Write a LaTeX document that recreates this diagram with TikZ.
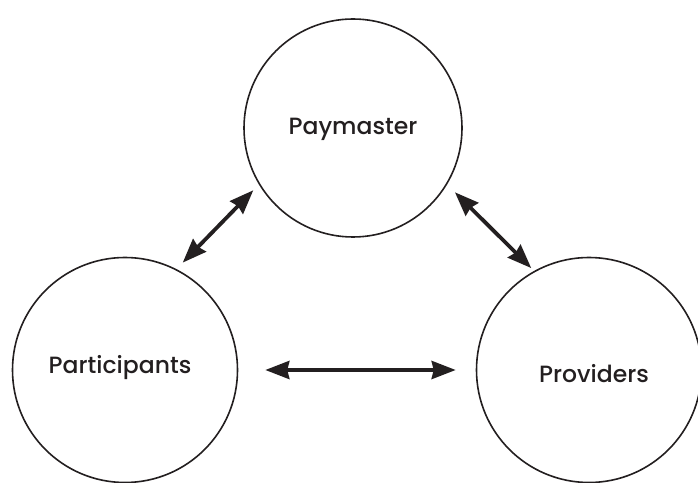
\documentclass[tikz,border=0pt]{standalone}
\usepackage{fontspec}
\setmainfont{Poppins}[UprightFont=* Medium]
\usetikzlibrary{arrows.meta}
\definecolor{ink}{HTML}{231F20}
\begin{document}
\begin{tikzpicture}[x=1pt,y=1pt,
  party/.style={circle,draw=ink,line width=1.6pt,inner sep=0pt},
  partytext/.style={anchor=base,inner sep=0pt,text=ink,
    font=\fontsize{23.5}{27}\selectfont},
  link/.style={ink,line width=3.8pt,
    {Stealth[length=24pt,width=18pt,inset=2pt]}-{Stealth[length=24pt,width=18pt,inset=2pt]}}]
  \useasboundingbox (0,0) rectangle (698,482);
  % the three parties
  \node[party,minimum size=218pt] (pay) at (353,354) {};
  \node[party,minimum size=225pt] (par) at (125,112) {};
  \node[party,minimum size=225pt] (pro) at (589,112) {};
  \node[partytext] (payname) at (353,347) {Paymaster};
  \node[partytext] (parname) at (120,109) {Participants};
  \node[partytext] (proname) at (594,100) {Providers};
  % two-way links between them
  \draw[link,shorten <=8pt,shorten >=9pt] (pay.211) -- (par.63);
  \draw[link,shorten <=11pt,shorten >=4pt] (pay.329) -- (pro.119);
  \draw[link,shorten <=27pt,shorten >=20pt] (par.east) -- (pro.west);
\end{tikzpicture}
\end{document}
